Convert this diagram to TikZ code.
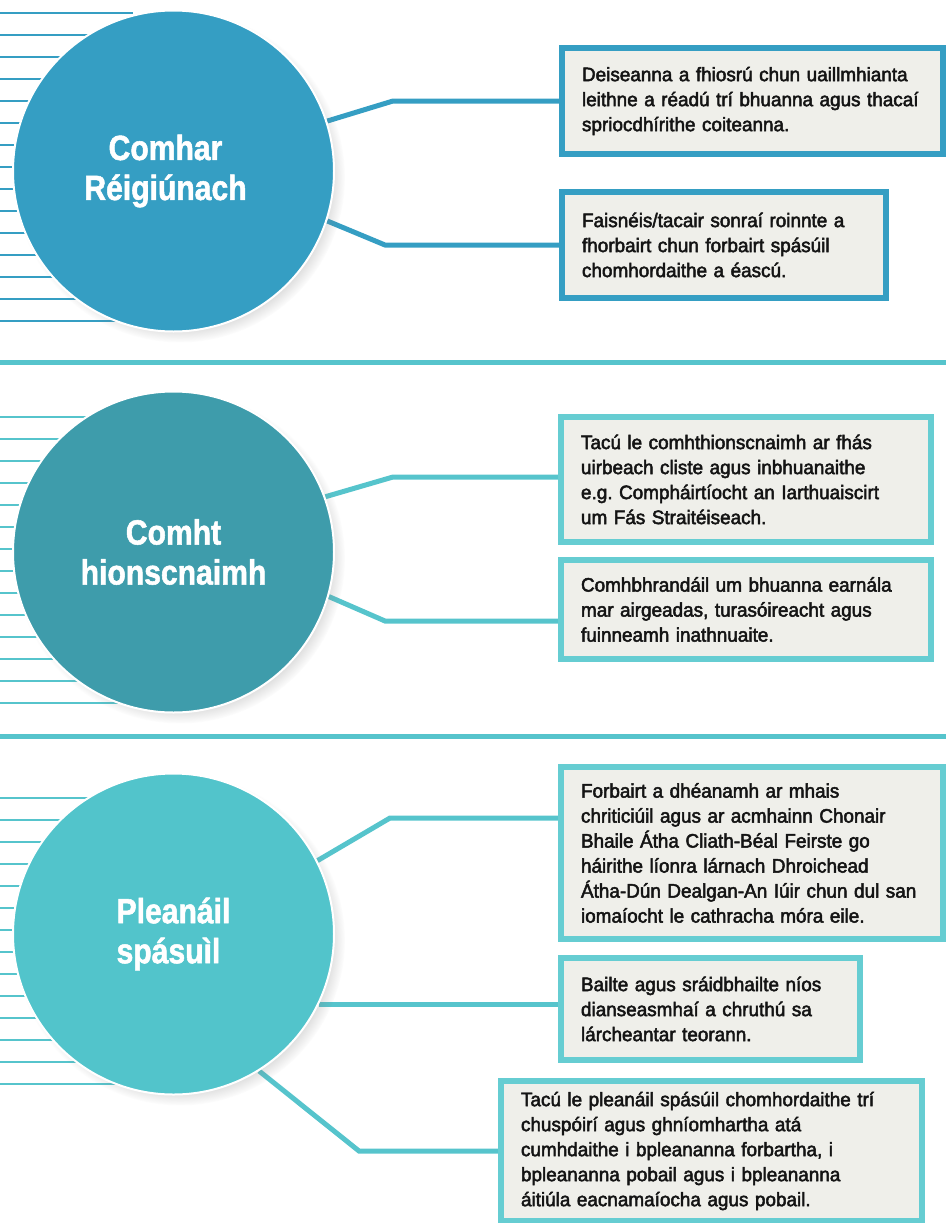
\documentclass[tikz,border=0pt]{standalone}
\usepackage{fontspec}
\setmainfont{Liberation Sans}[FakeStretch=0.97,FakeBold=2.5]
\newfontfamily\headfont{Liberation Sans}[FakeStretch=0.86,BoldFeatures={FakeBold=1.5}]
\definecolor{main}{RGB}{53,158,195}
\definecolor{second}{RGB}{62,156,171}
\definecolor{third}{RGB}{82,196,203}
\definecolor{fourth}{RGB}{86,196,204}
\definecolor{fifth}{RGB}{102,205,210}
\definecolor{paper}{RGB}{239,239,234}
\definecolor{ink}{RGB}{20,20,20}
\usepackage{tikz}
\usetikzlibrary{
	positioning,
	shadows,
	fadings,
	backgrounds % connectors under the circles
}
\tikzset{
  % circle
	cstcirc/.style  ={circle, draw=white, line width=2pt, minimum size=321pt, inner sep=0pt,
	                  text=white, align=center, font=\headfont\bfseries\fontsize{35}{40}\selectfont,
	                  circular drop shadow={shadow xshift=6pt, shadow yshift=-6pt, shadow scale=1.03, opacity=0.45}},
  % box
	cstbox/.style   ={draw, line width=6pt, fill=paper, inner sep=0pt, align=left, text=ink,
	                  font=\frenchspacing\fontsize{19.5}{25}\selectfont},
	cstbox1/.style  ={cstbox, draw=main},
	cstbox2/.style  ={cstbox, draw=fifth},
  % line
	cstlink/.style  ={line width=5pt, line join=miter},
	cststripe/.style={line width=2pt},
	cstsep/.style   ={line width=5pt, fourth}
}

\begin{document}
\begin{tikzpicture}[x=1pt,y=-1pt]
	\useasboundingbox (0,0) rectangle (946,1223);
	% circles
	\node[cstcirc, fill=main] (c1) at (173.5,171) {Comhar\hspace*{16pt}\\Réigiúnach\hspace*{16pt}};
	\node[cstcirc, fill=second] (c2) at (173.5,552) {Comht\\hionscnaimh};
	\node[cstcirc, fill=third, align=left] (c3) at (173.5,934) {Pleanáil\\spásuìl};
	% boxes
	\node[cstbox1, minimum width=381pt, minimum height=106pt, text width=341pt] (b1) at (752.5,101)
		{Deiseanna a fhiosrú chun uaillmhianta\\leithne a réadú trí bhuanna agus thacaí\\spriocdhírithe coiteanna.};
	\node[cstbox1, minimum width=324pt, minimum height=106pt, text width=284pt] (b2) at (724,245)
		{Faisnéis/tacair sonraí roinnte a\\fhorbairt chun forbairt spásúil\\chomhordaithe a éascú.};
	\node[cstbox2, minimum width=370pt, minimum height=125pt, text width=330pt] (b3) at (746,479.5)
		{Tacú le comhthionscnaimh ar fhás\\uirbeach cliste agus inbhuanaithe\\e.g. Compháirtíocht an Iarthuaiscirt\\um Fás Straitéiseach.};
	\node[cstbox2, minimum width=370pt, minimum height=99pt, text width=330pt] (b4) at (746,609.5)
		{Comhbhrandáil um bhuanna earnála\\mar airgeadas, turasóireacht agus\\fuinneamh inathnuaite.};
	\node[cstbox2, minimum width=382pt, minimum height=172pt, text width=342pt] (b5) at (752,853)
		{Forbairt a dhéanamh ar mhais\\chriticiúil agus ar acmhainn Chonair\\Bhaile Átha Cliath-Béal Feirste go\\háirithe líonra lárnach Dhroichead\\Átha-Dún Dealgan-An Iúir chun dul san\\iomaíocht le cathracha móra eile.};
	\node[cstbox2, minimum width=299pt, minimum height=102pt, text width=259pt] (b6) at (710.5,1009)
		{Bailte agus sráidbhailte níos\\dianseasmhaí a chruthú sa\\lárcheantar teorann.};
	\node[cstbox2, minimum width=421pt, minimum height=140pt, text width=381pt] (b7) at (711.5,1151)
		{Tacú le pleanáil spásúil chomhordaithe trí\\chuspóirí agus ghníomhartha atá\\cumhdaithe i bpleananna forbartha, i\\bpleananna pobail agus i bpleananna\\áitiúla eacnamaíocha agus pobail.};
	% bends
	\coordinate (k1) at (393,101);
	\coordinate (k2) at (385,245);
	\coordinate (k3) at (393,477);
	\coordinate (k4) at (385,621);
	\coordinate (k5) at (390,818);
	\coordinate (k7) at (359,1151);
	\begin{scope}[on background layer]
		% stripes
		\foreach \i in {0,...,14} \draw[cststripe, main] (0,13+22*\i) -- (133,13+22*\i);
		\foreach \i in {0,...,13} \draw[cststripe, fourth] (0,417+22*\i) -- (133,417+22*\i);
		\foreach \i in {0,...,13} \draw[cststripe, fourth] (0,798+22*\i) -- (133,798+22*\i);
		% separators
		\draw[cstsep] (0,362) -- (946,362);
		\draw[cstsep] (0,736) -- (946,736);
		% connectors
		\draw[cstlink, main] (c1.18) -- (k1) -- (k1 -| b1.west);
		\draw[cstlink, main] (c1.-18) -- (k2) -- (k2 -| b2.west);
		\draw[cstlink, fourth] (c2.20) -- (k3) -- (k3 -| b3.west);
		\draw[cstlink, fourth] (c2.-16) -- (k4) -- (k4 -| b4.west);
		\draw[cstlink, fourth] (c3.27) -- (k5) -- (k5 -| b5.west);
		\draw[cstlink, fourth] (c3.-26.8) -- (c3.-26.8 -| b6.west);
		\draw[cstlink, fourth] (c3.-58) -- (k7) -- (k7 -| b7.west);
	\end{scope}
\end{tikzpicture}
\end{document}
